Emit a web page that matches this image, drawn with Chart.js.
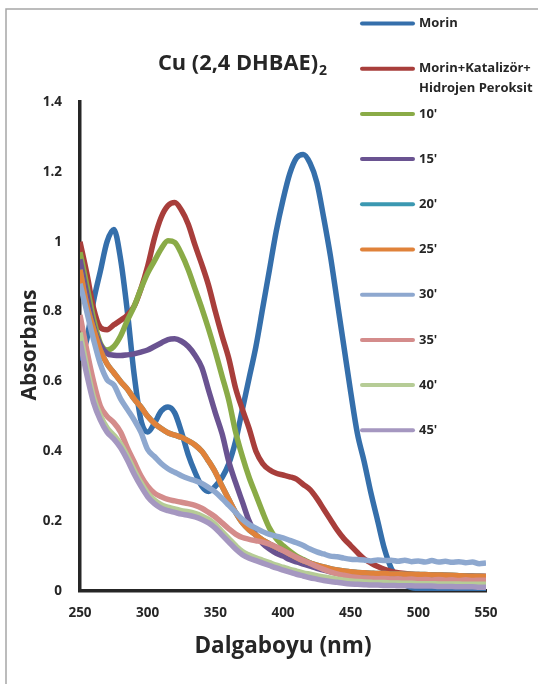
<!DOCTYPE html>
<html><head><meta charset="utf-8">
<script src="https://cdn.jsdelivr.net/npm/chart.js@4/dist/chart.umd.min.js"></script>
<style>html,body{margin:0;padding:0;background:#fff;}canvas{display:block;}</style>
</head><body>
<canvas id="c" width="538" height="684"></canvas>
<script>
const chartTitle = 'Cu (2,4 DHBAE)';
const chartTitleSub = '2';
const xAxisTitle = 'Dalgaboyu (nm)';
const yAxisTitle = 'Absorbans';
const xTickLabels = ['250','300','350','400','450','500','550'];
const yTickLabels = ['0','0.2','0.4','0.6','0.8','1','1.2','1.4'];
const seriesNames = ["Morin", "Morin+Katalizör+\nHidrojen Peroksit", "10'", "15'", "20'", "25'", "30'", "35'", "40'", "45'"];
const seriesColors = ['#356FAB','#A83E3B','#8AAB47','#6A5391','#3B98B1','#E0823A','#8EA8CF','#D48C8B','#B6CC96','#A597C0'];

const wavelengths = [250,255,260,265,270,275,280,285,290,295,300,305,310,315,320,325,330,335,340,345,350,355,360,365,370,375,380,385,390,395,400,405,410,415,420,425,430,435,440,445,450,455,460,465,470,475,480,485,490,495,500,505,510,515,520,525,530,535,540,545,550];

const morin = [0.66,0.72,0.83,0.915,1.0,1.035,0.95,0.80,0.62,0.49,0.455,0.48,0.515,0.527,0.51,0.455,0.39,0.34,0.30,0.285,0.30,0.325,0.365,0.43,0.52,0.61,0.70,0.81,0.92,1.03,1.12,1.195,1.24,1.25,1.225,1.17,1.07,0.96,0.83,0.70,0.57,0.45,0.37,0.28,0.20,0.12,0.065,0.035,0.018,0.01,0.007,0.005,0.005,0.005,0.005,0.005,0.005,0.005,0.005,0.005,0.005];
const morinKatH2O2 = [1.0,0.91,0.81,0.755,0.748,0.762,0.775,0.79,0.815,0.865,0.93,1.01,1.07,1.103,1.112,1.09,1.05,0.99,0.935,0.875,0.80,0.73,0.665,0.58,0.52,0.465,0.40,0.365,0.347,0.337,0.332,0.327,0.32,0.305,0.29,0.265,0.235,0.205,0.175,0.15,0.13,0.11,0.092,0.08,0.07,0.062,0.056,0.052,0.05,0.048,0.047,0.046,0.046,0.045,0.045,0.044,0.044,0.043,0.043,0.042,0.042];
const min10 = [0.97,0.875,0.78,0.71,0.69,0.70,0.73,0.775,0.815,0.865,0.91,0.945,0.98,1.003,0.998,0.965,0.92,0.865,0.81,0.75,0.685,0.615,0.545,0.455,0.385,0.325,0.275,0.225,0.18,0.15,0.13,0.114,0.10,0.09,0.08,0.072,0.065,0.06,0.055,0.05,0.046,0.043,0.04,0.038,0.036,0.034,0.033,0.032,0.031,0.03,0.029,0.028,0.028,0.027,0.027,0.026,0.026,0.025,0.025,0.025,0.024];
const min15 = [0.95,0.85,0.76,0.705,0.68,0.675,0.674,0.676,0.679,0.684,0.69,0.70,0.71,0.72,0.722,0.715,0.70,0.675,0.64,0.575,0.51,0.45,0.37,0.31,0.255,0.20,0.16,0.136,0.12,0.108,0.10,0.09,0.083,0.077,0.071,0.065,0.06,0.055,0.051,0.047,0.044,0.041,0.039,0.037,0.035,0.034,0.033,0.032,0.031,0.03,0.03,0.029,0.029,0.028,0.028,0.027,0.027,0.026,0.026,0.026,0.025];
const min20 = [0.92,0.82,0.75,0.69,0.65,0.625,0.60,0.578,0.55,0.527,0.50,0.48,0.465,0.453,0.446,0.44,0.43,0.418,0.40,0.372,0.34,0.30,0.262,0.225,0.195,0.175,0.16,0.146,0.135,0.125,0.117,0.106,0.096,0.087,0.08,0.074,0.069,0.064,0.06,0.057,0.055,0.053,0.052,0.051,0.05,0.05,0.049,0.049,0.048,0.048,0.047,0.047,0.046,0.046,0.045,0.045,0.044,0.043,0.042,0.042,0.041];
const min25 = [0.92,0.82,0.75,0.69,0.65,0.625,0.60,0.578,0.55,0.527,0.50,0.48,0.465,0.453,0.446,0.44,0.43,0.418,0.40,0.372,0.34,0.30,0.262,0.225,0.195,0.175,0.16,0.146,0.135,0.125,0.117,0.106,0.096,0.087,0.08,0.074,0.069,0.064,0.06,0.057,0.055,0.053,0.052,0.051,0.05,0.05,0.049,0.049,0.048,0.048,0.047,0.047,0.046,0.046,0.045,0.045,0.044,0.043,0.042,0.042,0.041];
const min30 = [0.88,0.80,0.72,0.65,0.605,0.59,0.55,0.52,0.49,0.455,0.405,0.385,0.365,0.35,0.34,0.33,0.322,0.316,0.308,0.296,0.283,0.265,0.245,0.225,0.205,0.19,0.18,0.17,0.162,0.157,0.152,0.145,0.138,0.13,0.12,0.112,0.106,0.10,0.098,0.094,0.091,0.09,0.089,0.086,0.089,0.087,0.088,0.085,0.088,0.084,0.086,0.083,0.087,0.083,0.085,0.082,0.084,0.081,0.083,0.078,0.08];
const min35 = [0.79,0.69,0.60,0.53,0.50,0.482,0.455,0.41,0.37,0.33,0.30,0.28,0.27,0.262,0.258,0.254,0.25,0.245,0.237,0.225,0.212,0.195,0.178,0.163,0.153,0.148,0.144,0.14,0.134,0.126,0.116,0.106,0.096,0.087,0.079,0.07,0.062,0.055,0.049,0.045,0.041,0.039,0.037,0.036,0.035,0.036,0.034,0.035,0.033,0.034,0.032,0.033,0.031,0.033,0.031,0.032,0.03,0.032,0.03,0.031,0.031];
const min40 = [0.74,0.64,0.555,0.503,0.467,0.446,0.421,0.386,0.346,0.31,0.28,0.26,0.247,0.24,0.235,0.23,0.227,0.222,0.215,0.205,0.19,0.17,0.15,0.13,0.113,0.103,0.095,0.088,0.081,0.074,0.068,0.062,0.057,0.052,0.048,0.044,0.04,0.037,0.034,0.031,0.029,0.027,0.026,0.025,0.024,0.024,0.023,0.023,0.022,0.022,0.021,0.021,0.021,0.02,0.02,0.02,0.02,0.019,0.019,0.019,0.019];
const min45 = [0.715,0.62,0.54,0.49,0.455,0.435,0.41,0.375,0.335,0.30,0.27,0.25,0.237,0.23,0.225,0.22,0.217,0.212,0.205,0.195,0.18,0.16,0.14,0.12,0.104,0.094,0.087,0.08,0.073,0.066,0.06,0.054,0.048,0.043,0.038,0.034,0.03,0.027,0.025,0.022,0.02,0.019,0.018,0.017,0.017,0.016,0.016,0.015,0.015,0.015,0.014,0.014,0.014,0.013,0.013,0.013,0.012,0.012,0.012,0.011,0.011];

const seriesValues = [morin, morinKatH2O2, min10, min15, min20, min25, min30, min35, min40, min45];
const FONT = '"Open Sans", Lato, sans-serif';
const TEXT = '#262626';

const datasets = seriesValues.map((vals, i) => ({
  label: seriesNames[i],
  data: vals.map((v, k) => ({x: wavelengths[k], y: v})),
  borderColor: seriesColors[i],
  backgroundColor: seriesColors[i],
  borderWidth: 5.5,
  pointRadius: 0,
  cubicInterpolationMode: 'monotone',
  fill: false,
  order: seriesValues.length - i
}));

const decor = {
  id: 'decor',
  beforeDraw(chart) {
    const ctx = chart.ctx;
    ctx.save();
    ctx.fillStyle = '#fff';
    ctx.fillRect(0, 0, chart.width, chart.height);
    ctx.strokeStyle = '#A6A6A6';
    ctx.lineWidth = 1.5;
    ctx.strokeRect(6, 9, 700, 800);
    ctx.restore();
  },
  afterDraw(chart) {
    const ctx = chart.ctx;
    ctx.save();
    ctx.fillStyle = TEXT;
    // title with subscript
    ctx.font = 'bold 21.8px ' + FONT;
    const w1 = ctx.measureText(chartTitle).width;
    ctx.font = 'bold 14px ' + FONT;
    const w2 = ctx.measureText(chartTitleSub).width;
    const x0 = 242.5 - (w1 + w2 + 1) / 2;
    ctx.textBaseline = 'alphabetic';
    ctx.textAlign = 'left';
    ctx.font = 'bold 21.8px ' + FONT;
    ctx.fillText(chartTitle, x0, 70);
    ctx.font = 'bold 14px ' + FONT;
    ctx.fillText(chartTitleSub, x0 + w1 + 1, 75);
    // axis titles
    ctx.textAlign = 'center';
    ctx.textBaseline = 'middle';
    ctx.font = 'bold 22.5px ' + FONT;
    ctx.fillText(xAxisTitle, 283, 647);
    ctx.save();
    ctx.translate(30, 345);
    ctx.rotate(-Math.PI / 2);
    ctx.font = 'bold 21px ' + FONT;
    ctx.fillText(yAxisTitle, 0, 0);
    ctx.restore();
    // legend
    ctx.font = 'bold 13px ' + FONT;
    ctx.textAlign = 'left';
    ctx.textBaseline = 'middle';
    ctx.lineCap = 'round';
    chart.data.datasets.forEach((ds, i) => {
      const y = 23.5 + i * 45.2;
      ctx.strokeStyle = ds.borderColor;
      ctx.lineWidth = 4;
      ctx.beginPath();
      ctx.moveTo(362, y);
      ctx.lineTo(413, y);
      ctx.stroke();
      ctx.fillStyle = TEXT;
      ds.label.split('\n').forEach((line, j) => {
        ctx.fillText(line, 419, y + j * 20);
      });
    });
    ctx.restore();
  }
};

new Chart(document.getElementById('c'), {
  type: 'line',
  data: { datasets },
  options: {
    responsive: false,
    animation: false,
    devicePixelRatio: 1,
    layout: { padding: { left: 0, top: 102, right: 52, bottom: 0 } },
    plugins: { legend: { display: false }, title: { display: false }, tooltip: { enabled: false } },
    scales: {
      x: {
        type: 'linear', min: 250, max: 550,
        afterFit: s => { s.height = 93; },
        afterBuildTicks: s => { s.ticks = xTickLabels.map(t => ({ value: Number(t) })); },
        grid: { display: false, drawTicks: false },
        border: { display: true, color: '#262626', width: 3.5 },
        ticks: {
          padding: 14, color: TEXT, font: { family: FONT, size: 13.5, weight: 'bold' },
          maxRotation: 0, autoSkip: false,
          callback: (v, i) => xTickLabels[i]
        }
      },
      y: {
        type: 'linear', min: 0, max: 1.4,
        afterFit: s => { s.width = 80; },
        afterBuildTicks: s => { s.ticks = yTickLabels.map(t => ({ value: Number(t) })); },
        grid: { display: false, drawTicks: false },
        border: { display: true, color: '#262626', width: 3.5 },
        ticks: {
          padding: 18, color: TEXT, font: { family: FONT, size: 13.5, weight: 'bold' },
          autoSkip: false,
          callback: (v, i) => yTickLabels[i]
        }
      }
    }
  },
  plugins: [decor]
});
</script>
</body></html>
